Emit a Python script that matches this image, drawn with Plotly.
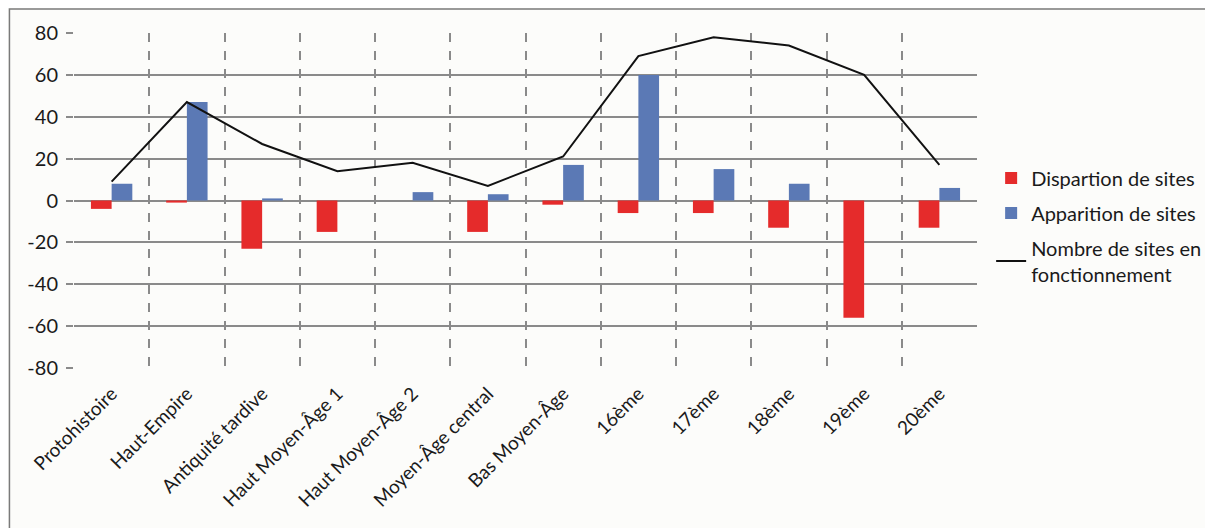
import plotly.graph_objects as go

categories = ["Protohistoire", "Haut-Empire", "Antiquité tardive", "Haut Moyen-Âge 1",
              "Haut Moyen-Âge 2", "Moyen-Âge central", "Bas Moyen-Âge", "16ème",
              "17ème", "18ème", "19ème", "20ème"]
disparition = [-4, -1, -23, -15, 0, -15, -2, -6, -6, -13, -56, -13]
apparition = [8, 47, 1, 0, 4, 3, 17, 60, 15, 8, 0, 6]
fonctionnement = [9, 47, 27, 14, 18, 7, 21, 69, 78, 74, 60, 17]
y_ticks = [-80, -60, -40, -20, 0, 20, 40, 60, 80]
y_ticktext = [str(v) for v in y_ticks]

FONT = "Lato"
GRID = "#8a8a8a"

fig = go.Figure()
fig.add_trace(go.Bar(x=categories, y=disparition, name="Dispartion de sites",
                     marker=dict(color="#e52b2b", line=dict(width=0)), legendgroup="a"))
fig.add_trace(go.Bar(x=categories, y=apparition, name="Apparition de sites",
                     marker=dict(color="#5b79b5", line=dict(width=0)), legendgroup="b"))
fig.add_trace(go.Scatter(x=categories, y=fonctionnement, mode="lines",
                         name="Nombre de sites en<br>fonctionnement",
                         line=dict(color="#111111", width=2), legendgroup="c"))

fig.update_layout(
    width=1213, height=528,
    margin=dict(l=66, r=244, t=25, b=168, autoexpand=False),
    paper_bgcolor="#fcfcfa", plot_bgcolor="#fcfcfa",
    barmode="group", bargap=0.45, bargroupgap=0,
    font=dict(family=FONT, size=19, color="#1a1a1a"),
    legend=dict(xref="container", yref="container", x=0.8105, y=0.715,
                xanchor="left", yanchor="top", tracegroupgap=6,
                font=dict(family=FONT, size=20, color="#1a1a1a"),
                bgcolor="rgba(0,0,0,0)"),
    xaxis=dict(type="category", tickson="boundaries", showgrid=True,
               griddash="dash", gridcolor=GRID, gridwidth=1.5,
               ticks="", ticklabelstandoff=10, automargin=False,
               tickangle=-45, tickfont=dict(size=19), showline=False,
               range=[-0.5, 11.5]),
    yaxis=dict(range=[-80, 80], tickvals=y_ticks, ticktext=y_ticktext,
               showgrid=True, gridcolor=GRID, automargin=False,
               gridwidth=1.5, zeroline=True, zerolinecolor=GRID, zerolinewidth=1.5,
               ticks="outside", ticklen=7, tickcolor=GRID, tickwidth=1.5,
               ticklabelstandoff=4,
               showline=False, tickfont=dict(size=20)),
)

fig.add_shape(type="rect", xref="paper", yref="paper",
              x0=-0.0715, x1=1.3, y0=-0.52, y1=1.072,
              line=dict(color="#7a7a7a", width=1.5), fillcolor="rgba(0,0,0,0)",
              layer="below")

fig.write_html("out.html")
